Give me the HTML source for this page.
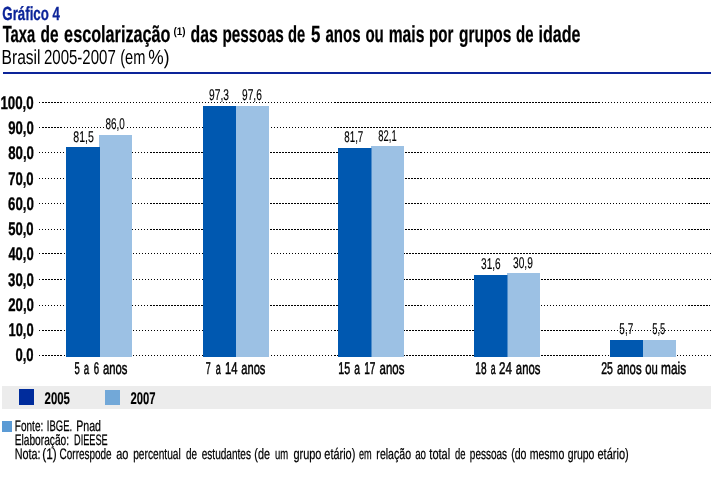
<!DOCTYPE html>
<html lang="pt-BR"><head><meta charset="utf-8"><title>Gráfico 4</title>
<style>html,body{margin:0;padding:0;background:#fff}svg{display:block}text{font-family:"Liberation Sans",sans-serif;white-space:pre;text-rendering:geometricPrecision}</style></head><body>
<svg width="714" height="487" viewBox="0 0 714 487">
<rect width="714" height="487" fill="#fff"/>
<rect x="3" y="72" width="708" height="2" fill="#0c2499" shape-rendering="crispEdges"/>
<g stroke="#000" stroke-width="1" shape-rendering="crispEdges" stroke-dasharray="1 2">
<line x1="39" y1="355.5" x2="62" y2="355.5"/>
<line x1="43" y1="355.5" x2="601" y2="355.5"/>
<line x1="335" y1="355.5" x2="711" y2="355.5"/>
<line x1="39" y1="330.5" x2="62" y2="330.5"/>
<line x1="43" y1="330.5" x2="601" y2="330.5"/>
<line x1="335" y1="330.5" x2="711" y2="330.5"/>
<line x1="39" y1="305.5" x2="421" y2="305.5"/>
<line x1="151" y1="305.5" x2="710" y2="305.5"/>
<line x1="689" y1="305.5" x2="708" y2="305.5"/>
<line x1="39" y1="279.5" x2="62" y2="279.5"/>
<line x1="43" y1="279.5" x2="601" y2="279.5"/>
<line x1="335" y1="279.5" x2="711" y2="279.5"/>
<line x1="39" y1="253.5" x2="62" y2="253.5"/>
<line x1="43" y1="253.5" x2="601" y2="253.5"/>
<line x1="335" y1="253.5" x2="711" y2="253.5"/>
<line x1="39" y1="229.5" x2="421" y2="229.5"/>
<line x1="151" y1="229.5" x2="710" y2="229.5"/>
<line x1="689" y1="229.5" x2="708" y2="229.5"/>
<line x1="39" y1="203.5" x2="421" y2="203.5"/>
<line x1="151" y1="203.5" x2="710" y2="203.5"/>
<line x1="689" y1="203.5" x2="708" y2="203.5"/>
<line x1="39" y1="178.5" x2="421" y2="178.5"/>
<line x1="151" y1="178.5" x2="710" y2="178.5"/>
<line x1="689" y1="178.5" x2="708" y2="178.5"/>
<line x1="39" y1="152.5" x2="421" y2="152.5"/>
<line x1="151" y1="152.5" x2="710" y2="152.5"/>
<line x1="689" y1="152.5" x2="708" y2="152.5"/>
<line x1="39" y1="127.5" x2="62" y2="127.5"/>
<line x1="43" y1="127.5" x2="601" y2="127.5"/>
<line x1="335" y1="127.5" x2="711" y2="127.5"/>
<line x1="39" y1="102.5" x2="62" y2="102.5"/>
<line x1="43" y1="102.5" x2="601" y2="102.5"/>
<line x1="335" y1="102.5" x2="711" y2="102.5"/>
</g>
<rect x="105" y="127" width="21" height="1" fill="#fff" shape-rendering="crispEdges"/>
<g>
<rect x="99" y="135" width="33" height="222" fill="#9cc1e4"/>
<rect x="66" y="147" width="34" height="210" fill="#0058b0"/>
<rect x="236" y="106" width="33" height="251" fill="#9cc1e4"/>
<rect x="203" y="106" width="33" height="251" fill="#0058b0"/>
<rect x="371" y="146" width="33" height="211" fill="#9cc1e4"/>
<rect x="338" y="148" width="33.5" height="209" fill="#0058b0"/>
<rect x="507" y="273" width="33" height="84" fill="#9cc1e4"/>
<rect x="474" y="275" width="33.5" height="82" fill="#0058b0"/>
<rect x="643" y="340" width="33" height="17" fill="#9cc1e4"/>
<rect x="610" y="340" width="33" height="17" fill="#0058b0"/>
<rect x="2" y="386" width="709" height="23" fill="#ececec"/>
<rect x="19" y="389" width="15" height="16" fill="#002c9c"/>
<rect x="105" y="390" width="15" height="15" fill="#72a8d8"/>
<rect x="2" y="421" width="10" height="11" fill="#5b9bd5"/>
</g>
<text id="t0" y="20.00" font-size="19" font-weight="bold" fill="#0c2499" stroke="#0c2499" stroke-width="0.3"><tspan x="2.30" textLength="57.67" lengthAdjust="spacingAndGlyphs">Gráfico 4</tspan></text>
<text id="t1" y="42.00" font-size="23.3" font-weight="bold" fill="#000" stroke="#000" stroke-width="0.25"><tspan x="2.64" textLength="32.49" lengthAdjust="spacingAndGlyphs">Taxa</tspan> <tspan x="40.56" textLength="18.03" lengthAdjust="spacingAndGlyphs">de</tspan> <tspan x="64.11" textLength="106.37" lengthAdjust="spacingAndGlyphs">escolarização</tspan></text>
<text id="t1s" y="35.00" font-size="11" font-weight="bold" fill="#000"><tspan x="173.47" textLength="12.03" lengthAdjust="spacingAndGlyphs">(1)</tspan></text>
<text id="t1b" y="42.00" font-size="23.3" font-weight="bold" fill="#000" stroke="#000" stroke-width="0.25"><tspan x="190.59" textLength="27.19" lengthAdjust="spacingAndGlyphs">das</tspan> <tspan x="222.52" textLength="61.11" lengthAdjust="spacingAndGlyphs">pessoas</tspan> <tspan x="288.06" textLength="17.23" lengthAdjust="spacingAndGlyphs">de</tspan> <tspan x="310.99" textLength="9.41" lengthAdjust="spacingAndGlyphs">5</tspan> <tspan x="325.47" textLength="35.07" lengthAdjust="spacingAndGlyphs">anos</tspan> <tspan x="365.40" textLength="18.44" lengthAdjust="spacingAndGlyphs">ou</tspan> <tspan x="388.69" textLength="35.70" lengthAdjust="spacingAndGlyphs">mais</tspan> <tspan x="429.07" textLength="24.33" lengthAdjust="spacingAndGlyphs">por</tspan> <tspan x="459.03" textLength="52.40" lengthAdjust="spacingAndGlyphs">grupos</tspan> <tspan x="516.11" textLength="17.42" lengthAdjust="spacingAndGlyphs">de</tspan> <tspan x="538.53" textLength="42.03" lengthAdjust="spacingAndGlyphs">idade</tspan></text>
<text id="t2" y="64.00" font-size="20.4" font-weight="normal" fill="#000"><tspan x="1.62" textLength="38.93" lengthAdjust="spacingAndGlyphs">Brasil</tspan> <tspan x="43.95" textLength="71.84" lengthAdjust="spacingAndGlyphs">2005-2007</tspan> <tspan x="120.19" textLength="25.24" lengthAdjust="spacingAndGlyphs">(em</tspan> <tspan x="148.36" textLength="21.20" lengthAdjust="spacingAndGlyphs">%)</tspan></text>
<text id="y0" y="361.00" font-size="18.4" font-weight="bold" fill="#000" stroke="#000" stroke-width="0.35"><tspan x="15.47" textLength="18.17" lengthAdjust="spacingAndGlyphs">0,0</tspan></text>
<text id="y1" y="336.00" font-size="18.4" font-weight="bold" fill="#000" stroke="#000" stroke-width="0.35"><tspan x="8.49" textLength="25.09" lengthAdjust="spacingAndGlyphs">10,0</tspan></text>
<text id="y2" y="311.00" font-size="18.4" font-weight="bold" fill="#000" stroke="#000" stroke-width="0.35"><tspan x="8.21" textLength="25.74" lengthAdjust="spacingAndGlyphs">20,0</tspan></text>
<text id="y3" y="286.00" font-size="18.4" font-weight="bold" fill="#000" stroke="#000" stroke-width="0.35"><tspan x="8.11" textLength="25.61" lengthAdjust="spacingAndGlyphs">30,0</tspan></text>
<text id="y4" y="260.00" font-size="18.4" font-weight="bold" fill="#000" stroke="#000" stroke-width="0.35"><tspan x="8.40" textLength="25.21" lengthAdjust="spacingAndGlyphs">40,0</tspan></text>
<text id="y5" y="235.00" font-size="18.4" font-weight="bold" fill="#000" stroke="#000" stroke-width="0.35"><tspan x="8.13" textLength="25.50" lengthAdjust="spacingAndGlyphs">50,0</tspan></text>
<text id="y6" y="210.00" font-size="18.4" font-weight="bold" fill="#000" stroke="#000" stroke-width="0.35"><tspan x="8.06" textLength="25.87" lengthAdjust="spacingAndGlyphs">60,0</tspan></text>
<text id="y7" y="185.00" font-size="18.4" font-weight="bold" fill="#000" stroke="#000" stroke-width="0.35"><tspan x="8.14" textLength="25.48" lengthAdjust="spacingAndGlyphs">70,0</tspan></text>
<text id="y8" y="159.00" font-size="18.4" font-weight="bold" fill="#000" stroke="#000" stroke-width="0.35"><tspan x="8.16" textLength="25.79" lengthAdjust="spacingAndGlyphs">80,0</tspan></text>
<text id="y9" y="134.00" font-size="18.4" font-weight="bold" fill="#000" stroke="#000" stroke-width="0.35"><tspan x="8.18" textLength="25.52" lengthAdjust="spacingAndGlyphs">90,0</tspan></text>
<text id="y10" y="109.00" font-size="18.4" font-weight="bold" fill="#000" stroke="#000" stroke-width="0.35"><tspan x="0.40" textLength="33.29" lengthAdjust="spacingAndGlyphs">100,0</tspan></text>
<text id="x0" y="374.00" font-size="17" font-weight="normal" fill="#000" stroke="#000" stroke-width="0.5"><tspan x="74.55" textLength="5.25" lengthAdjust="spacingAndGlyphs">5</tspan> <tspan x="83.63" textLength="5.36" lengthAdjust="spacingAndGlyphs">a</tspan> <tspan x="93.63" textLength="5.36" lengthAdjust="spacingAndGlyphs">6</tspan> <tspan x="103.08" textLength="24.42" lengthAdjust="spacingAndGlyphs">anos</tspan></text>
<text id="x1" y="374.00" font-size="17" font-weight="normal" fill="#000" stroke="#000" stroke-width="0.5"><tspan x="205.80" textLength="4.95" lengthAdjust="spacingAndGlyphs">7</tspan> <tspan x="215.70" textLength="5.03" lengthAdjust="spacingAndGlyphs">a</tspan> <tspan x="225.07" textLength="12.46" lengthAdjust="spacingAndGlyphs">14</tspan> <tspan x="241.28" textLength="24.12" lengthAdjust="spacingAndGlyphs">anos</tspan></text>
<text id="x2" y="374.00" font-size="17" font-weight="normal" fill="#000" stroke="#000" stroke-width="0.5"><tspan x="338.37" textLength="11.96" lengthAdjust="spacingAndGlyphs">15</tspan> <tspan x="354.28" textLength="5.72" lengthAdjust="spacingAndGlyphs">a</tspan> <tspan x="364.22" textLength="11.29" lengthAdjust="spacingAndGlyphs">17</tspan> <tspan x="379.50" textLength="24.88" lengthAdjust="spacingAndGlyphs">anos</tspan></text>
<text id="x3" y="374.00" font-size="17" font-weight="normal" fill="#000" stroke="#000" stroke-width="0.5"><tspan x="475.35" textLength="11.19" lengthAdjust="spacingAndGlyphs">18</tspan> <tspan x="490.67" textLength="4.85" lengthAdjust="spacingAndGlyphs">a</tspan> <tspan x="499.11" textLength="12.89" lengthAdjust="spacingAndGlyphs">24</tspan> <tspan x="515.87" textLength="24.51" lengthAdjust="spacingAndGlyphs">anos</tspan></text>
<text id="x4" y="374.00" font-size="17" font-weight="normal" fill="#000" stroke="#000" stroke-width="0.5"><tspan x="601.26" textLength="11.72" lengthAdjust="spacingAndGlyphs">25</tspan> <tspan x="617.07" textLength="24.48" lengthAdjust="spacingAndGlyphs">anos</tspan> <tspan x="645.26" textLength="12.58" lengthAdjust="spacingAndGlyphs">ou</tspan> <tspan x="661.11" textLength="25.03" lengthAdjust="spacingAndGlyphs">mais</tspan></text>
<text id="b0" y="142.00" font-size="15.5" font-weight="normal" fill="#000" stroke="#000" stroke-width="0.15"><tspan x="73.26" textLength="20.57" lengthAdjust="spacingAndGlyphs">81,5</tspan></text>
<text id="b1" y="129.00" font-size="15.5" font-weight="normal" fill="#000" stroke="#000" stroke-width="0.15"><tspan x="105.55" textLength="19.28" lengthAdjust="spacingAndGlyphs">86,0</tspan></text>
<text id="b2" y="100.00" font-size="15.5" font-weight="normal" fill="#000" stroke="#000" stroke-width="0.15"><tspan x="209.11" textLength="19.83" lengthAdjust="spacingAndGlyphs">97,3</tspan></text>
<text id="b3" y="100.00" font-size="15.5" font-weight="normal" fill="#000" stroke="#000" stroke-width="0.15"><tspan x="242.01" textLength="19.78" lengthAdjust="spacingAndGlyphs">97,6</tspan></text>
<text id="b4" y="142.00" font-size="15.5" font-weight="normal" fill="#000" stroke="#000" stroke-width="0.15"><tspan x="344.31" textLength="18.99" lengthAdjust="spacingAndGlyphs">81,7</tspan></text>
<text id="b5" y="141.00" font-size="15.5" font-weight="normal" fill="#000" stroke="#000" stroke-width="0.15"><tspan x="378.35" textLength="18.28" lengthAdjust="spacingAndGlyphs">82,1</tspan></text>
<text id="b6" y="269.00" font-size="15.5" font-weight="normal" fill="#000" stroke="#000" stroke-width="0.15"><tspan x="481.12" textLength="19.58" lengthAdjust="spacingAndGlyphs">31,6</tspan></text>
<text id="b7" y="268.00" font-size="15.5" font-weight="normal" fill="#000" stroke="#000" stroke-width="0.15"><tspan x="513.06" textLength="19.77" lengthAdjust="spacingAndGlyphs">30,9</tspan></text>
<text id="b8" y="334.00" font-size="15.5" font-weight="normal" fill="#000" stroke="#000" stroke-width="0.15"><tspan x="619.36" textLength="13.81" lengthAdjust="spacingAndGlyphs">5,7</tspan></text>
<text id="b9" y="334.00" font-size="15.5" font-weight="normal" fill="#000" stroke="#000" stroke-width="0.15"><tspan x="652.24" textLength="13.09" lengthAdjust="spacingAndGlyphs">5,5</tspan></text>
<text id="l0" y="404.00" font-size="17" font-weight="bold" fill="#000" stroke="#000" stroke-width="0.15"><tspan x="44.54" textLength="25.39" lengthAdjust="spacingAndGlyphs">2005</tspan></text>
<text id="l1" y="404.00" font-size="17" font-weight="bold" fill="#000" stroke="#000" stroke-width="0.15"><tspan x="130.55" textLength="25.09" lengthAdjust="spacingAndGlyphs">2007</tspan></text>
<text id="s0" y="431.00" font-size="15.2" font-weight="normal" fill="#000" stroke="#000" stroke-width="0.25"><tspan x="14.87" textLength="28.40" lengthAdjust="spacingAndGlyphs">Fonte:</tspan> <tspan x="46.82" textLength="25.27" lengthAdjust="spacingAndGlyphs">IBGE.</tspan> <tspan x="76.22" textLength="24.81" lengthAdjust="spacingAndGlyphs">Pnad</tspan></text>
<text id="s1" y="445.00" font-size="15.2" font-weight="normal" fill="#000" stroke="#000" stroke-width="0.25"><tspan x="14.73" textLength="54.31" lengthAdjust="spacingAndGlyphs">Elaboração:</tspan> <tspan x="74.03" textLength="33.68" lengthAdjust="spacingAndGlyphs">DIEESE</tspan></text>
<text id="s2" y="459.00" font-size="15.2" font-weight="normal" fill="#000" stroke="#000" stroke-width="0.25"><tspan x="14.69" textLength="25.87" lengthAdjust="spacingAndGlyphs">Nota:</tspan> <tspan x="42.24" textLength="14.37" lengthAdjust="spacingAndGlyphs">(1)</tspan> <tspan x="59.59" textLength="52.08" lengthAdjust="spacingAndGlyphs">Correspode</tspan> <tspan x="116.23" textLength="12.23" lengthAdjust="spacingAndGlyphs">ao</tspan> <tspan x="133.21" textLength="47.54" lengthAdjust="spacingAndGlyphs">percentual</tspan> <tspan x="186.10" textLength="11.06" lengthAdjust="spacingAndGlyphs">de</tspan> <tspan x="201.74" textLength="49.24" lengthAdjust="spacingAndGlyphs">estudantes</tspan> <tspan x="254.35" textLength="15.66" lengthAdjust="spacingAndGlyphs">(de</tspan> <tspan x="274.91" textLength="13.19" lengthAdjust="spacingAndGlyphs">um</tspan> <tspan x="293.38" textLength="28.10" lengthAdjust="spacingAndGlyphs">grupo</tspan> <tspan x="324.34" textLength="31.01" lengthAdjust="spacingAndGlyphs">etário)</tspan> <tspan x="358.98" textLength="12.75" lengthAdjust="spacingAndGlyphs">em</tspan> <tspan x="376.37" textLength="34.65" lengthAdjust="spacingAndGlyphs">relação</tspan> <tspan x="415.13" textLength="10.78" lengthAdjust="spacingAndGlyphs">ao</tspan> <tspan x="429.37" textLength="20.84" lengthAdjust="spacingAndGlyphs">total</tspan> <tspan x="454.94" textLength="10.51" lengthAdjust="spacingAndGlyphs">de</tspan> <tspan x="469.82" textLength="37.30" lengthAdjust="spacingAndGlyphs">pessoas</tspan> <tspan x="511.20" textLength="15.27" lengthAdjust="spacingAndGlyphs">(do</tspan> <tspan x="529.63" textLength="34.68" lengthAdjust="spacingAndGlyphs">mesmo</tspan> <tspan x="567.67" textLength="26.79" lengthAdjust="spacingAndGlyphs">grupo</tspan> <tspan x="597.47" textLength="31.29" lengthAdjust="spacingAndGlyphs">etário)</tspan></text>
</svg></body></html>
